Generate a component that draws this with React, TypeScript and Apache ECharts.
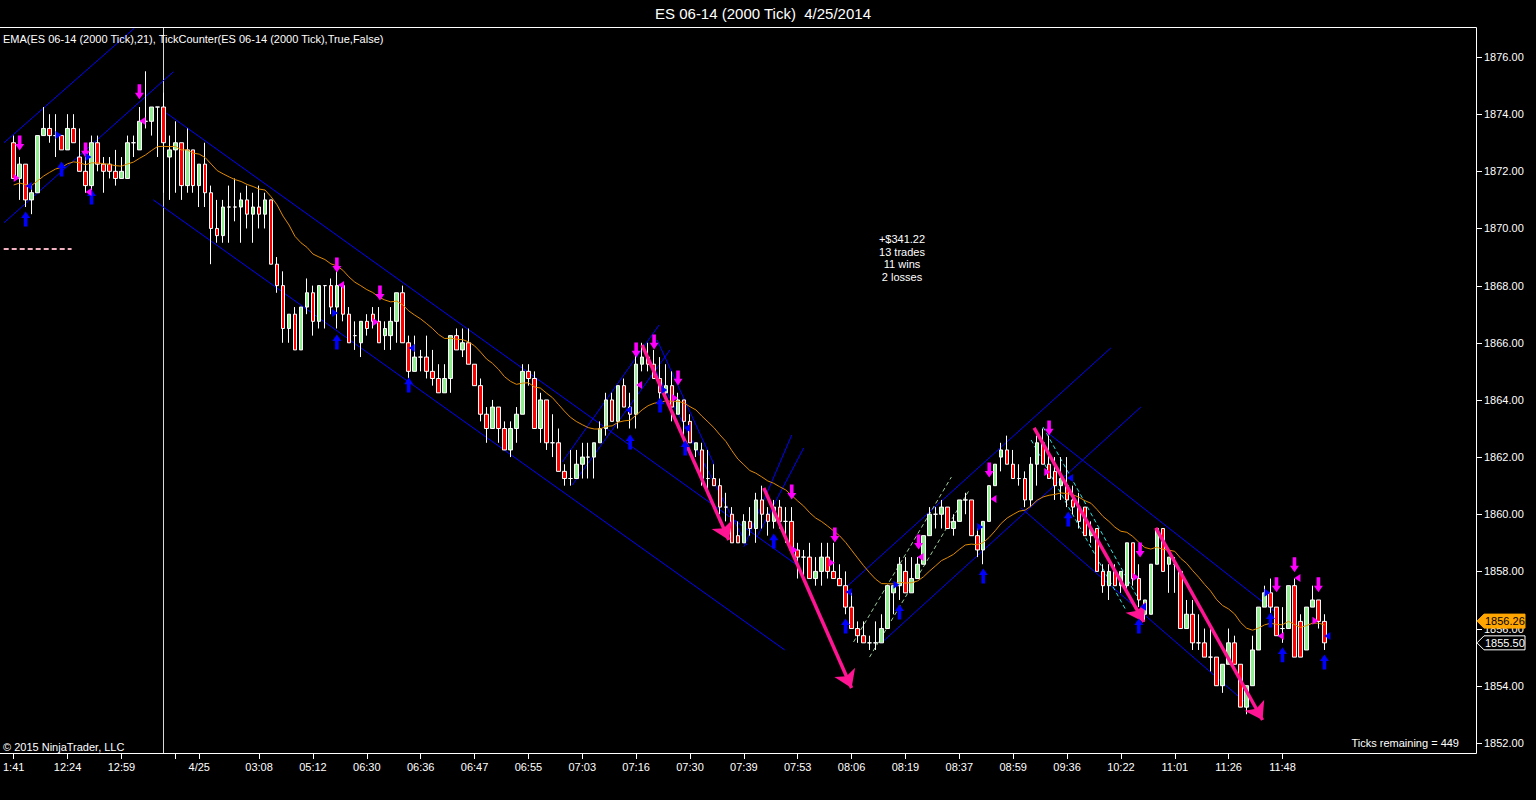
import React, { useEffect, useRef } from "react";
import * as echarts from "echarts";

const FONT = '"Liberation Sans", Arial, sans-serif';

// Candles: [open, close, low, high]
const barsNight: number[][] = [
  [1873.0, 1871.75, 1871.75, 1873.25], [1871.75, 1872.25, 1871.0, 1872.5], [1872.25, 1871.0, 1870.75, 1872.25],
  [1871.0, 1871.25, 1870.5, 1871.5], [1871.25, 1873.25, 1871.25, 1873.25], [1873.25, 1873.5, 1873.25, 1874.25],
  [1873.5, 1873.25, 1873.0, 1874.0], [1873.25, 1873.25, 1872.5, 1874.0], [1873.25, 1872.75, 1872.75, 1873.25],
  [1872.75, 1873.5, 1872.75, 1874.0], [1873.5, 1873.0, 1873.0, 1874.0], [1872.5, 1872.0, 1872.0, 1873.5],
  [1872.0, 1871.5, 1871.25, 1872.5], [1871.5, 1873.0, 1871.25, 1873.25], [1873.0, 1872.25, 1872.0, 1873.25],
  [1872.25, 1872.0, 1871.25, 1872.5], [1872.25, 1872.0, 1871.75, 1872.5], [1872.0, 1871.75, 1871.5, 1872.75],
  [1871.75, 1872.0, 1871.75, 1872.5], [1871.75, 1873.0, 1871.75, 1873.25], [1873.0, 1873.0, 1872.5, 1873.25],
  [1872.75, 1873.75, 1872.75, 1874.25], [1873.75, 1873.75, 1873.5, 1875.5], [1873.75, 1874.25, 1873.25, 1874.25],
  [1874.25, 1874.25, 1872.5, 1874.25],
];
const barsOpen: number[][] = [
  [1874.25, 1873.0, 1871.25, 1874.75], [1872.5, 1872.75, 1871.0, 1873.25], [1872.75, 1873.0, 1871.25, 1873.75],
  [1873.0, 1871.5, 1871.0, 1873.0], [1871.5, 1872.75, 1871.25, 1873.5], [1872.75, 1871.5, 1871.25, 1872.75],
  [1871.5, 1872.25, 1870.75, 1872.25], [1872.25, 1871.25, 1870.75, 1873.0], [1871.25, 1870.0, 1868.75, 1871.5],
  [1870.0, 1869.75, 1869.5, 1871.0], [1869.75, 1870.75, 1869.5, 1871.0], [1870.75, 1870.75, 1869.5, 1871.5],
  [1870.75, 1870.75, 1870.25, 1871.75], [1870.75, 1871.0, 1869.5, 1871.25], [1871.0, 1870.5, 1870.0, 1871.5],
  [1870.5, 1870.75, 1869.5, 1871.25], [1870.75, 1870.5, 1870.0, 1871.5], [1870.5, 1871.0, 1870.0, 1871.25],
  [1871.0, 1868.75, 1868.75, 1871.0], [1868.75, 1868.0, 1867.75, 1869.0], [1868.0, 1866.5, 1866.0, 1868.5],
  [1866.5, 1867.0, 1866.0, 1867.0], [1867.0, 1865.75, 1865.75, 1867.25], [1865.75, 1867.25, 1865.75, 1867.25],
  [1867.25, 1867.75, 1867.0, 1868.25], [1867.75, 1866.75, 1866.25, 1868.0], [1866.75, 1868.0, 1866.5, 1868.0],
  [1868.0, 1868.0, 1866.5, 1868.0], [1868.0, 1867.25, 1867.0, 1868.25], [1867.25, 1868.0, 1866.5, 1868.5],
  [1868.0, 1867.0, 1866.75, 1868.0], [1867.0, 1866.0, 1866.0, 1867.25], [1866.25, 1866.25, 1865.75, 1866.75],
  [1866.0, 1866.75, 1865.5, 1866.75], [1866.75, 1866.5, 1866.25, 1867.0], [1867.0, 1866.75, 1866.5, 1867.25],
  [1866.75, 1866.0, 1866.0, 1867.25], [1866.25, 1866.5, 1865.75, 1866.75], [1866.25, 1866.75, 1865.75, 1867.25],
  [1866.75, 1867.75, 1866.0, 1867.75], [1867.75, 1866.0, 1866.0, 1868.0],
];
const barsMid: number[][] = [
  [1866.0, 1865.0, 1864.75, 1866.25], [1865.0, 1865.5, 1865.0, 1866.25], [1865.5, 1865.5, 1865.0, 1865.75],
  [1865.5, 1865.0, 1864.75, 1866.25], [1865.0, 1864.75, 1864.5, 1865.75], [1864.75, 1864.25, 1864.25, 1865.25],
  [1864.25, 1864.75, 1864.25, 1865.25], [1864.75, 1866.25, 1864.25, 1866.25], [1866.25, 1865.75, 1865.75, 1866.5],
  [1865.75, 1866.0, 1865.5, 1866.5], [1866.0, 1865.25, 1865.25, 1866.5], [1865.25, 1864.5, 1864.5, 1865.25],
  [1864.5, 1863.5, 1863.25, 1864.75], [1863.5, 1863.0, 1862.5, 1863.75], [1863.0, 1863.75, 1863.0, 1864.0],
  [1863.75, 1863.0, 1862.5, 1863.75], [1863.0, 1862.25, 1862.25, 1863.25], [1862.25, 1863.0, 1862.0, 1863.25],
  [1863.0, 1863.5, 1862.5, 1863.75], [1863.5, 1865.0, 1863.5, 1865.25], [1865.0, 1864.75, 1864.5, 1865.25],
  [1864.75, 1863.0, 1863.0, 1865.0], [1863.0, 1864.0, 1862.5, 1864.25], [1864.0, 1862.5, 1862.25, 1864.0],
  [1862.5, 1862.5, 1862.0, 1863.5], [1862.5, 1861.5, 1861.5, 1863.0], [1861.5, 1861.25, 1861.0, 1861.75],
  [1861.25, 1861.25, 1861.0, 1862.25], [1861.25, 1861.75, 1861.25, 1862.25], [1861.75, 1862.0, 1861.25, 1862.5],
  [1862.0, 1862.0, 1861.25, 1862.5], [1862.0, 1862.5, 1861.25, 1862.5], [1862.5, 1863.0, 1862.5, 1863.25],
  [1863.0, 1864.0, 1862.75, 1864.25], [1864.0, 1863.25, 1863.25, 1864.25], [1863.25, 1864.5, 1863.0, 1864.5],
  [1864.5, 1863.75, 1863.75, 1864.75], [1863.75, 1863.5, 1863.0, 1864.25], [1863.5, 1865.25, 1863.0, 1865.75],
  [1865.25, 1865.5, 1865.0, 1866.0], [1865.5, 1865.25, 1865.0, 1866.0], [1865.25, 1864.75, 1864.75, 1865.75],
  [1864.75, 1864.25, 1864.0, 1865.5], [1864.25, 1864.5, 1864.0, 1865.25], [1864.5, 1863.75, 1863.25, 1865.0],
  [1863.5, 1864.0, 1863.5, 1864.25], [1864.0, 1863.25, 1862.75, 1864.0], [1863.25, 1862.5, 1862.5, 1863.5],
];
const barsLate: number[][] = [
  [1862.25, 1862.5, 1862.0, 1862.5], [1862.25, 1861.25, 1861.0, 1862.5], [1861.25, 1861.25, 1860.75, 1862.25],
  [1861.25, 1861.0, 1861.0, 1861.75], [1861.0, 1860.25, 1860.0, 1861.25], [1860.25, 1860.25, 1859.75, 1860.75],
  [1860.0, 1859.0, 1859.0, 1860.25], [1859.25, 1859.0, 1859.0, 1859.75], [1859.0, 1859.75, 1859.0, 1860.0],
  [1859.75, 1859.5, 1859.25, 1860.25], [1859.5, 1860.5, 1859.0, 1860.75], [1860.5, 1860.0, 1859.5, 1861.0],
  [1860.0, 1859.75, 1859.25, 1860.25], [1859.75, 1860.25, 1859.5, 1860.5], [1860.25, 1859.75, 1859.5, 1860.5],
  [1859.75, 1859.75, 1859.0, 1860.25], [1859.75, 1858.75, 1858.75, 1860.25], [1858.75, 1858.5, 1857.75, 1859.0],
  [1858.5, 1858.5, 1857.75, 1858.75], [1858.5, 1857.75, 1857.75, 1859.0], [1857.75, 1858.0, 1857.5, 1858.5],
  [1858.0, 1858.5, 1857.5, 1859.0], [1858.5, 1858.0, 1857.75, 1859.0], [1858.0, 1857.75, 1857.75, 1859.0],
  [1857.75, 1857.5, 1857.5, 1858.25], [1857.5, 1856.75, 1856.5, 1858.0], [1856.75, 1856.0, 1856.0, 1857.25],
  [1856.0, 1855.75, 1855.5, 1856.25], [1855.75, 1855.5, 1855.5, 1856.25], [1855.5, 1855.5, 1855.25, 1855.75],
  [1855.5, 1855.5, 1855.25, 1856.25], [1855.5, 1856.0, 1855.5, 1856.5], [1856.0, 1857.5, 1856.0, 1857.5],
  [1857.25, 1857.5, 1856.5, 1857.5], [1857.5, 1858.25, 1857.0, 1858.5], [1858.0, 1857.25, 1857.25, 1858.5],
  [1857.25, 1857.75, 1857.25, 1858.5], [1857.75, 1858.25, 1857.75, 1858.5], [1858.25, 1859.25, 1858.25, 1859.25],
  [1859.25, 1860.0, 1859.25, 1860.25], [1860.0, 1860.0, 1859.5, 1860.25], [1860.0, 1860.25, 1859.5, 1860.5],
  [1860.25, 1859.5, 1859.5, 1860.25], [1859.5, 1859.75, 1859.25, 1860.0], [1859.75, 1860.5, 1859.75, 1860.5],
  [1860.5, 1860.5, 1860.0, 1860.75], [1860.5, 1859.25, 1859.25, 1860.5], [1859.25, 1858.75, 1858.5, 1859.5],
  [1858.75, 1859.75, 1858.25, 1859.75], [1859.75, 1861.0, 1859.75, 1861.0],
];
const barsEnd: number[][] = [
  [1861.0, 1861.75, 1861.0, 1861.75], [1862.0, 1862.25, 1861.5, 1862.5], [1862.25, 1861.75, 1861.75, 1862.75],
  [1861.75, 1861.25, 1861.25, 1862.25], [1861.25, 1861.25, 1861.0, 1861.75], [1861.25, 1860.5, 1860.25, 1861.5],
  [1860.5, 1861.75, 1860.25, 1862.0], [1861.75, 1862.5, 1861.0, 1862.75], [1862.5, 1861.75, 1861.75, 1863.0],
  [1861.75, 1861.25, 1861.25, 1862.75], [1861.5, 1861.0, 1860.5, 1862.0], [1861.0, 1861.25, 1860.5, 1862.0],
  [1861.0, 1860.5, 1860.25, 1862.0], [1860.5, 1860.25, 1860.0, 1861.0], [1860.25, 1859.75, 1859.5, 1860.75],
  [1860.25, 1859.25, 1859.25, 1860.25], [1859.25, 1859.5, 1859.0, 1859.75], [1859.5, 1858.0, 1858.0, 1859.5],
  [1858.0, 1857.5, 1857.25, 1858.25], [1857.5, 1858.0, 1857.0, 1858.25], [1858.0, 1857.5, 1857.5, 1858.25],
  [1857.5, 1858.0, 1857.25, 1858.0], [1857.5, 1859.0, 1857.25, 1859.0], [1859.0, 1857.75, 1857.5, 1859.0],
  [1857.75, 1857.0, 1856.75, 1858.25], [1856.5, 1857.0, 1856.25, 1857.0], [1856.5, 1858.25, 1856.5, 1858.25],
  [1858.25, 1859.5, 1858.25, 1859.5], [1859.5, 1858.0, 1858.0, 1859.5], [1858.25, 1858.5, 1857.25, 1858.5],
  [1858.25, 1858.25, 1857.25, 1858.5], [1858.0, 1856.0, 1856.0, 1858.0], [1856.0, 1856.5, 1856.0, 1857.0],
  [1856.5, 1855.5, 1855.25, 1857.0], [1855.5, 1855.5, 1855.25, 1856.5], [1855.5, 1855.0, 1855.0, 1856.0],
  [1855.0, 1855.0, 1854.5, 1856.0], [1855.0, 1854.0, 1854.0, 1855.0], [1854.0, 1854.75, 1853.75, 1854.75],
  [1854.75, 1855.5, 1854.75, 1856.0], [1855.5, 1854.75, 1854.75, 1855.75], [1854.75, 1853.25, 1853.25, 1854.75],
  [1853.25, 1854.0, 1853.0, 1854.0], [1854.0, 1855.25, 1854.0, 1855.75], [1855.25, 1856.75, 1855.25, 1856.75],
  [1856.75, 1857.25, 1856.75, 1857.5], [1857.25, 1856.75, 1856.5, 1857.75], [1856.75, 1855.75, 1855.75, 1856.75],
  [1856.0, 1856.0, 1855.5, 1856.75], [1856.0, 1857.5, 1856.0, 1857.5], [1857.5, 1855.0, 1855.0, 1857.75],
  [1856.25, 1855.0, 1855.0, 1856.5], [1855.25, 1856.75, 1855.25, 1856.75], [1856.75, 1857.0, 1856.75, 1857.5],
  [1857.0, 1856.25, 1856.0, 1857.0], [1856.25, 1855.5, 1855.25, 1856.5],
];

// bar indexes of the time-axis ticks and their labels
const xTickIndex = [0, 9, 18, 27, 31, 41, 50, 59, 68, 77, 86, 95, 104, 113, 122, 131, 140, 149, 158, 167, 176, 185, 194, 203, 212];
const xTickText = ["1:41", "12:24", "12:59", "", "4/25", "03:08", "05:12", "06:30", "06:36", "06:47", "06:55", "07:03", "07:16",
  "07:30", "07:39", "07:53", "08:06", "08:19", "08:37", "08:59", "09:36", "10:22", "11:01", "11:26", "11:48"];
const yTicks = [1852, 1854, 1856, 1858, 1860, 1862, 1864, 1866, 1868, 1870, 1872, 1874, 1876];

const LEAD_SLOTS = 1;
const TOTAL_SLOTS = 246;
const Y_MIN = 1851.61;
const Y_MAX = 1877.05;
const EMA_PERIOD = 21;
const EMA_SEED = 1871.5;
const SESSION_BAR = 25;
const LAST_EMA_TAG = 1856.26;
const LAST_PRICE = 1855.5;

// drawing tools: [barIndex1, price1, barIndex2, price2]
const channelLines = [
  [-1.67, 1872.99, 20.17, 1877.01],
  [-1.67, 1870.19, 26.67, 1875.48],
  [25.5, 1874.04, 130.83, 1858.23],
  [23.33, 1871.0, 128.83, 1855.25],
  [91.67, 1861.83, 107.83, 1866.62],
  [93.33, 1861.02, 109.67, 1865.75],
  [105.0, 1865.92, 122.5, 1858.92],
  [107.5, 1866.1, 117.0, 1861.75],
  [122.0, 1858.86, 130.0, 1862.77],
  [124.17, 1859.2, 132.0, 1862.32],
  [139.17, 1857.46, 183.33, 1865.82],
  [145.0, 1855.5, 188.33, 1863.75],
  [172.83, 1862.84, 210.83, 1856.58],
  [168.33, 1860.22, 206.67, 1853.26],
];
const greenDashed = [
  [140.33, 1855.53, 156.67, 1861.3],
  [143.0, 1855.0, 159.67, 1860.85],
];
const cyanDashed = [
  [170.0, 1862.6, 185.83, 1856.65],
  [172.0, 1863.05, 187.83, 1857.07],
];
const pinkArrows = [
  [105.0, 1865.92, 119.5, 1859.1],
  [125.33, 1860.92, 140.0, 1853.92],
  [170.5, 1863.02, 188.83, 1856.23],
  [190.83, 1859.52, 208.67, 1852.8],
];
const stopLine = [-1.67, 1869.28, 9.67, 1869.28];

// trade markers: [barIndex, price]
const sellArrows = [
  [1.0, 1872.99], [21.0, 1874.78], [12.0, 1872.75], [54.0, 1868.72], [61.2, 1867.74], [104.0, 1865.75],
  [107.0, 1866.03], [111.0, 1864.77], [130.0, 1860.78], [137.2, 1859.27], [151.2, 1859.03], [163.0, 1861.55],
  [173.0, 1863.02], [188.2, 1858.75], [211.0, 1857.53], [214.0, 1858.23], [218.0, 1857.53],
];
const buyArrows = [
  [2.0, 1870.33], [8.0, 1872.08], [13.0, 1871.1], [54.0, 1866.03], [66.0, 1864.52], [103.0, 1862.53],
  [108.0, 1863.82], [112.2, 1862.32], [127.0, 1859.06], [139.0, 1856.09], [148.0, 1856.58], [162.0, 1857.84],
  [176.2, 1859.83], [188.0, 1856.09], [210.0, 1856.3], [212.0, 1855.08], [219.0, 1854.83],
];
// [barIndex, price, 1 = points right / -1 = points left]
const magentaTris = [
  [0.5, 1871.77, 1], [21.5, 1873.76, -1], [12.5, 1871.28, -1], [54.7, 1868.02, -1], [60.5, 1866.73, 1],
  [104.5, 1864.52, -1], [110.5, 1864.07, 1], [130.5, 1858.75, 1], [136.7, 1858.3, 1], [151.5, 1858.5, -1],
  [163.7, 1860.53, -1], [172.7, 1861.48, 1], [187.5, 1857.8, 1], [211.7, 1855.74, -1], [214.5, 1857.77, -1],
  [217.5, 1856.27, 1],
];
const blueTris = [
  [2.5, 1871.49, -1], [7.5, 1873.27, 1], [12.5, 1872.5, 1], [53.7, 1867.04, 1], [66.5, 1865.82, -1],
  [102.7, 1863.65, -1], [108.7, 1864.35, 1], [112.5, 1863.02, -1], [139.5, 1857.28, -1], [147.5, 1857.53, 1],
  [161.5, 1859.55, 1], [176.5, 1861.27, -1], [188.7, 1856.76, -1], [209.5, 1857.25, 1], [219.5, 1855.74, -1],
];

const statsLines = ["+$341.22", "13 trades", "11 wins", "2 losses"];

const bars = [...barsNight, ...barsOpen, ...barsMid, ...barsLate, ...barsEnd];

function buildEma(): number[] {
  const k = 2 / (EMA_PERIOD + 1);
  const out: number[] = [];
  let e = EMA_SEED;
  for (const b of bars) {
    e = e + (b[1] - e) * k;
    out.push(Math.round(e * 1000) / 1000);
  }
  return out;
}

const DOWN_ARROW = "path://M3,0L7,0L7,9L10,9L5,16L0,9L3,9Z";
const UP_ARROW = "path://M5,0L10,7L7,7L7,16L3,16L3,7L0,7Z";

function seg(s: number[]) {
  return { coords: [[s[0], s[1]], [s[2], s[3]]] };
}

export default function App() {
  const ref = useRef<HTMLDivElement>(null);
  useEffect(() => {
    if (!ref.current) return;
    const chart = echarts.init(ref.current, undefined, { renderer: "svg" });
    const cats = Array.from({ length: TOTAL_SLOTS }, (_, i) => String(i));
    const labelMap: Record<string, string> = {};
    xTickIndex.forEach((ix, k) => (labelMap[String(ix + LEAD_SLOTS)] = xTickText[k]));
    const tickSet = new Set(xTickIndex.map((ix) => ix + LEAD_SLOTS));
    const ema = buildEma();

    const linesBase = {
      type: "lines",
      coordinateSystem: "cartesian2d",
      xAxisIndex: 1,
      yAxisIndex: 0,
      silent: true,
      polyline: false,
    };
    const scatterBase = {
      type: "scatter",
      xAxisIndex: 1,
      yAxisIndex: 0,
      z: 5,
      silent: true,
    };

    chart.setOption({
      animation: false,
      backgroundColor: "#000000",
      grid: { left: 1, right: 59, top: 27, bottom: 46, containLabel: false },
      xAxis: [
        {
          type: "category",
          data: cats,
          boundaryGap: true,
          axisLine: { show: false },
          axisTick: {
            show: true,
            alignWithLabel: true,
            interval: (i: number) => tickSet.has(i),
            length: 5,
            lineStyle: { color: "#ffffff", width: 1 },
          },
          axisLabel: {
            interval: (i: number) => tickSet.has(i),
            formatter: (v: string) => labelMap[v] ?? "",
            color: "#ffffff",
            fontSize: 11,
            fontFamily: FONT,
            margin: 7,
          },
          splitLine: { show: false },
        },
        { type: "value", min: -0.5 - LEAD_SLOTS, max: TOTAL_SLOTS - 0.5 - LEAD_SLOTS, show: false },
      ],
      yAxis: {
        type: "value",
        position: "right",
        min: Y_MIN,
        max: Y_MAX,
        axisLine: { show: false },
        axisTick: { show: false },
        axisLabel: {
          customValues: yTicks,
          formatter: (v: number) => v.toFixed(2),
          color: "#ffffff",
          fontSize: 11,
          fontFamily: FONT,
          margin: 7,
        },
        splitLine: { show: false },
      },
      series: [
        {
          ...linesBase,
          z: 1,
          data: [seg([SESSION_BAR, Y_MAX, SESSION_BAR, Y_MIN])],
          lineStyle: { color: "#d8d8d8", width: 1, opacity: 1 },
        },
        {
          ...linesBase,
          z: 1,
          data: channelLines.map(seg),
          lineStyle: { color: "#0000ff", width: 1, opacity: 1 },
        },
        {
          ...linesBase,
          z: 1,
          data: greenDashed.map(seg),
          lineStyle: { color: "#9ccc9c", width: 1, opacity: 1, type: [4, 3] },
        },
        {
          ...linesBase,
          z: 1,
          data: cyanDashed.map(seg),
          lineStyle: { color: "#30e0e0", width: 1, opacity: 1, type: [4, 3] },
        },
        {
          ...linesBase,
          z: 1,
          data: [seg(stopLine)],
          lineStyle: { color: "#f0b0c0", width: 2, opacity: 1, type: [5, 3] },
        },
        {
          type: "candlestick",
          name: "ES 06-14",
          xAxisIndex: 0,
          yAxisIndex: 0,
          z: 2,
          barWidth: 4,
          encode: { x: 0, y: [1, 2, 3, 4] },
          data: bars.map((b, i) => [i + LEAD_SLOTS, b[0], b[1], b[2], b[3]]),
          itemStyle: {
            color: "#90ee90",
            color0: "#ff0000",
            borderColor: "#ffffff",
            borderColor0: "#ffffff",
            borderColorDoji: "#ffffff",
            borderWidth: 1,
          },
        },
        {
          type: "line",
          name: "EMA",
          xAxisIndex: 0,
          yAxisIndex: 0,
          z: 3,
          data: ema.map((v, i) => [i + LEAD_SLOTS, v]),
          showSymbol: false,
          symbol: "none",
          lineStyle: { color: "#e08a00", width: 1 },
        },
        {
          ...linesBase,
          z: 4,
          data: pinkArrows.map(seg),
          symbol: ["none", "arrow"],
          symbolSize: 17,
          lineStyle: { color: "#ff1493", width: 3.5, opacity: 1 },
        },
        {
          ...scatterBase,
          symbol: DOWN_ARROW,
          symbolSize: [9, 15],
          itemStyle: { color: "#ff00ff", opacity: 1 },
          data: sellArrows,
        },
        {
          ...scatterBase,
          symbol: UP_ARROW,
          symbolSize: [9, 15],
          itemStyle: { color: "#0000ff", opacity: 1 },
          data: buyArrows,
        },
        {
          ...scatterBase,
          symbol: "triangle",
          symbolSize: [8, 6],
          itemStyle: { color: "#ff00ff", opacity: 1 },
          data: magentaTris.map((t) => ({ value: [t[0], t[1]], symbolRotate: t[2] > 0 ? -90 : 90 })),
        },
        {
          ...scatterBase,
          symbol: "triangle",
          symbolSize: [8, 6],
          itemStyle: { color: "#0000ff", opacity: 1 },
          data: blueTris.map((t) => ({ value: [t[0], t[1]], symbolRotate: t[2] > 0 ? -90 : 90 })),
        },
      ],
    });

    const py = (v: number) => chart.convertToPixel({ yAxisIndex: 0 }, v) as number;
    const yEma = py(LAST_EMA_TAG);
    const yLast = py(LAST_PRICE);
    const txt = (x: number, y: number, text: string, size: number, align: string, color = "#ffffff") => ({
      type: "text",
      x,
      y,
      z: 100,
      silent: true,
      style: {
        text,
        fill: color,
        font: `${size}px ${FONT}`,
        align,
        textAlign: align,
        verticalAlign: "middle",
        textVerticalAlign: "middle",
      },
    });
    const tag = (y: number, fill: string, stroke: string, textColor: string, label: string) => [
      {
        type: "polygon",
        z: 99,
        silent: true,
        shape: { points: [[1477, y], [1484, y - 7], [1525, y - 7], [1525, y + 7], [1484, y + 7]] },
        style: { fill, stroke, lineWidth: 1 },
      },
      txt(1485, y, label, 11, "left", textColor),
    ];
    const line = (x1: number, y1: number, x2: number, y2: number) => ({
      type: "line",
      z: 98,
      silent: true,
      shape: { x1, y1, x2, y2 },
      style: { stroke: "#ffffff", lineWidth: 1 },
    });

    chart.setOption({
      graphic: [
        line(0, 27.5, 1476.5, 27.5),
        line(1476.5, 27.5, 1476.5, 753.5),
        line(0, 753.5, 1476.5, 753.5),
        ...yTicks.map((v) => line(1477, Math.round(py(v)) + 0.5, 1482, Math.round(py(v)) + 0.5)),
        txt(763, 13, "ES 06-14 (2000 Tick)  4/25/2014", 15, "center"),
        txt(3, 39, "EMA(ES 06-14 (2000 Tick),21), TickCounter(ES 06-14 (2000 Tick),True,False)", 11, "left"),
        txt(3, 747, "\u00a9 2015 NinjaTrader, LLC", 11, "left"),
        txt(1459, 743, "Ticks remaining = 449", 11, "right"),
        ...statsLines.map((s, k) => txt(902, 239 + k * 12.7, s, 11, "center")),
        ...tag(yEma, "#ffa500", "#ffa500", "#000000", LAST_EMA_TAG.toFixed(2)),
        ...tag(yLast, "#000000", "#ffffff", "#ffffff", LAST_PRICE.toFixed(2)),
      ],
    });

    return () => chart.dispose();
  }, []);

  return (
    <div
      ref={ref}
      style={{ position: "fixed", left: 0, top: 0, width: 1536, height: 800, background: "#000" }}
    />
  );
}
